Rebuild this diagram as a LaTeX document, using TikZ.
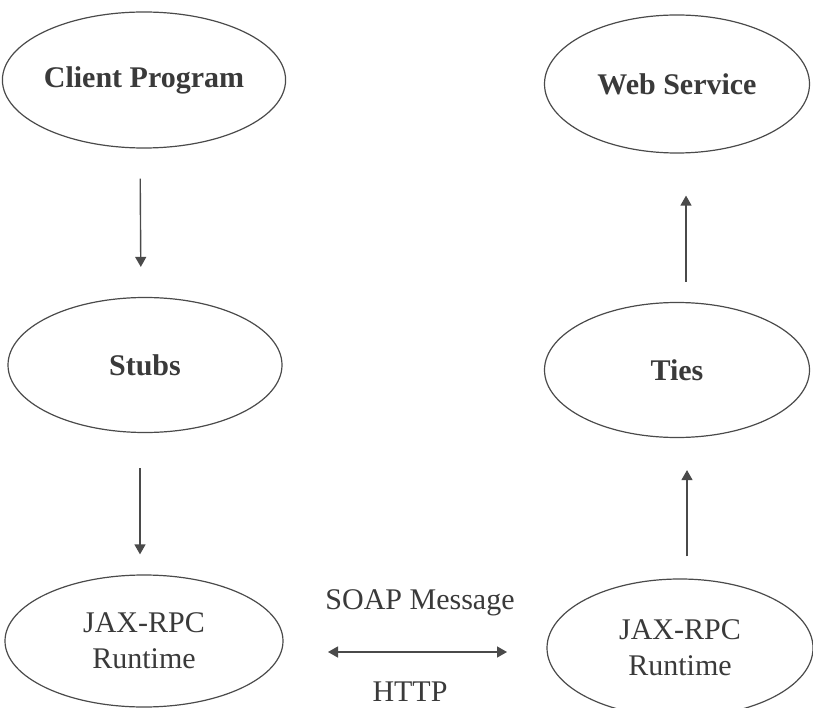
\documentclass[tikz,border=0pt]{standalone}
\usepackage{fontspec}
\setmainfont{Liberation Serif}
\usetikzlibrary{shapes.geometric,arrows.meta}
\definecolor{ink}{HTML}{4A4A4A}
\definecolor{txt}{HTML}{3A3A3A}
\tikzset{
  oval/.style={ellipse, draw=ink, line width=1.2pt, inner sep=0pt, text=txt, align=center, font=\fontsize{30}{36}\selectfont},
  boldoval/.style={oval, font=\fontsize{30}{36}\selectfont\bfseries},
  flow/.style={draw=ink, line width=1.4pt, -{Triangle[width=11pt,length=10pt]}},
  both/.style={draw=ink, line width=1.4pt, {Triangle[width=11pt,length=10pt]}-{Triangle[width=11pt,length=10pt]}},
  lbl/.style={text=txt, inner sep=0pt, font=\fontsize{30}{36}\selectfont}
}
\begin{document}
\begin{tikzpicture}[x=1pt,y=-1pt]
\useasboundingbox[fill=white] (0,0) rectangle (813,708);
\node[boldoval, minimum width=274pt, minimum height=136pt] (cp) at (144,80) {Client Program};
\node[boldoval, minimum width=265pt, minimum height=138pt] (ws) at (677,84) {Web Service};
\node[boldoval, minimum width=274pt, minimum height=135pt] (st) at (145,365) {Stubs};
\node[boldoval, minimum width=265pt, minimum height=135pt] (ti) at (677,370) {Ties};
\node[oval, minimum width=278pt, minimum height=132pt] (jl) at (144,641) {JAX-RPC\\Runtime};
\node[oval, minimum width=266pt, minimum height=138pt] (jr) at (680,648) {JAX-RPC\\Runtime};
\draw[flow, shorten <=30pt, shorten >=30pt] ([xshift=-4pt]cp.south) -- ([xshift=-4pt]st.north);
\draw[flow, shorten <=35pt, shorten >=20pt] ([xshift=-5pt]st.south) -- ([xshift=-4pt]jl.north);
\draw[flow, shorten <=20pt, shorten >=42pt] ([xshift=9pt]ti.north) -- ([xshift=9pt]ws.south);
\draw[flow, shorten <=22pt, shorten >=32pt] ([xshift=7pt]jr.north) -- ([xshift=10pt]ti.south);
\coordinate (hl) at (328,652);
\coordinate (hr) at (507,652);
\draw[both] (hl) -- (hr);
\node[lbl] (soap) at (420,603) {SOAP Message};
\node[lbl] (http) at (410,692) {HTTP};
\end{tikzpicture}
\end{document}
